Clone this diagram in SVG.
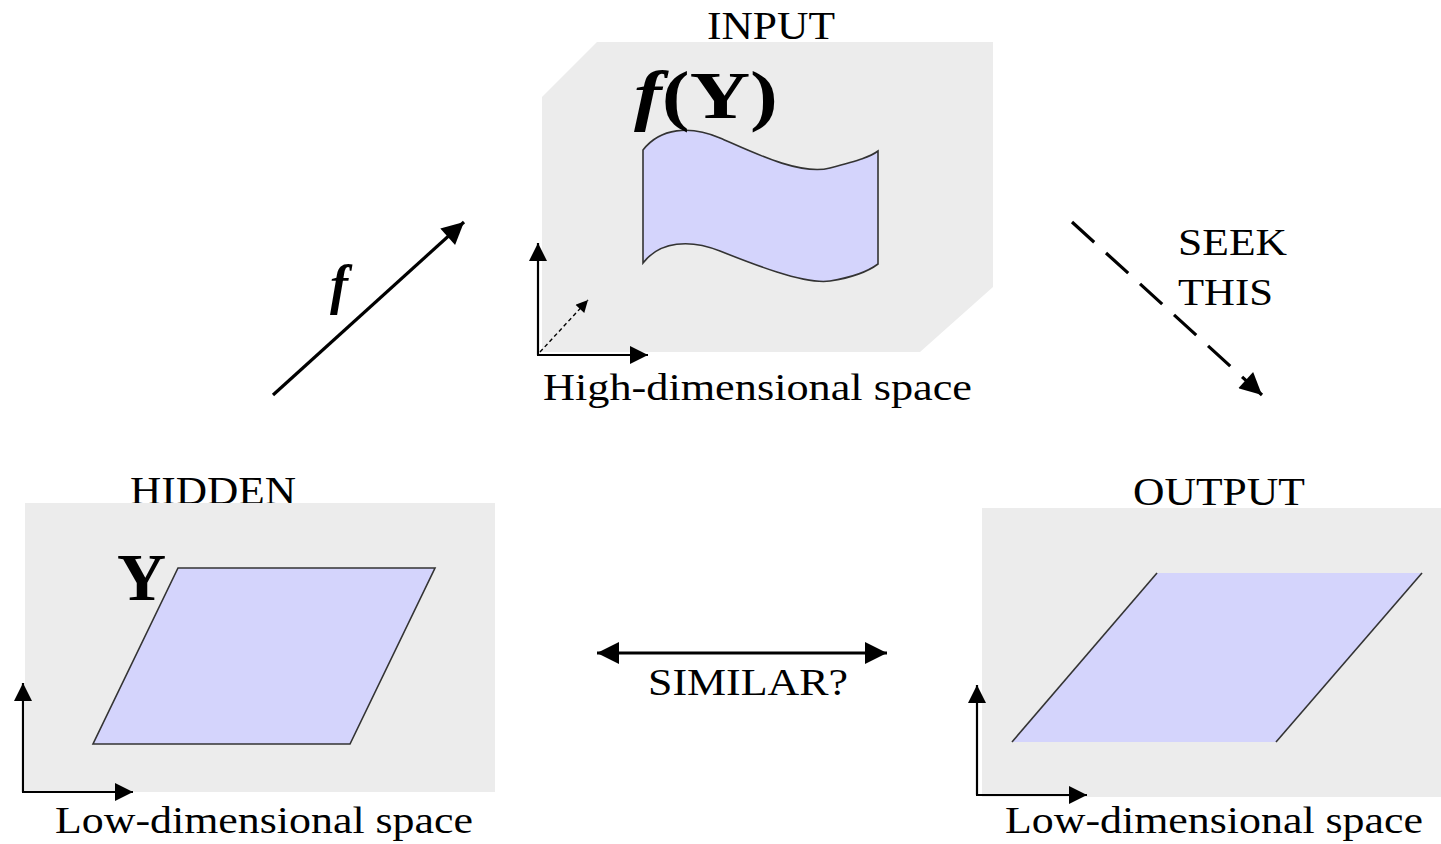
<svg xmlns="http://www.w3.org/2000/svg" width="1441" height="844" viewBox="0 0 1441 844">
<style>
.bg{fill:#ececec;stroke:none}
.sheet{fill:#d4d4fc;stroke:#333;stroke-width:1.6}
.t{font-family:"Liberation Serif","Times New Roman",serif;fill:#000}
.ax{stroke:#000;stroke-width:2.2;fill:none}
</style>
<defs>
<marker id="hd" viewBox="0 0 10 10" refX="10" refY="5" markerUnits="userSpaceOnUse" markerWidth="26" markerHeight="22" orient="auto-start-reverse">
<path d="M0,0 L10,5 L0,10 z" fill="#000"/>
</marker>
<marker id="hs" viewBox="0 0 10 10" refX="10" refY="5" markerUnits="userSpaceOnUse" markerWidth="22" markerHeight="18" orient="auto">
<path d="M0,0 L10,5 L0,10 z" fill="#000"/>
</marker>
<marker id="hx" viewBox="0 0 10 10" refX="10" refY="5" markerUnits="userSpaceOnUse" markerWidth="16" markerHeight="12" orient="auto">
<path d="M0,0 L10,5 L0,10 z" fill="#000"/>
</marker>
</defs>

<g id="input">
<text class="t" x="707" y="39" font-size="40" textLength="128" lengthAdjust="spacingAndGlyphs">INPUT</text>
<polygon class="bg" points="597,42 993,42 993,287 920,352 542,352 542,97"/>
<path class="sheet" d="M643,150 C660,128 690,125 720,138 S800,176 830,168 S870,157 878,151 L878,264 C870,270 855,277 830,281 S750,263 720,251 S660,241 643,263 Z"/>
<text class="t" x="634" y="118" font-size="68" font-weight="bold" textLength="144" lengthAdjust="spacingAndGlyphs"><tspan font-style="italic">f</tspan>(Y)</text>
<line class="ax" x1="538" y1="355" x2="538" y2="243" marker-end="url(#hs)"/>
<line class="ax" x1="537" y1="355" x2="648" y2="355" marker-end="url(#hs)"/>
<line x1="540" y1="352" x2="588" y2="300" stroke="#000" stroke-width="1.4" stroke-dasharray="4,3" marker-end="url(#hx)"/>
<text class="t" x="543" y="400" font-size="37" textLength="429" lengthAdjust="spacingAndGlyphs">High-dimensional space</text>
</g>

<g id="hidden">
<text class="t" x="130" y="504" font-size="40" textLength="166" lengthAdjust="spacingAndGlyphs">HIDDEN</text>
<rect class="bg" x="25" y="503" width="470" height="289"/>
<polygon class="sheet" points="178,568 435,568 350,744 93,744"/>
<text class="t" x="117" y="600" font-size="68" font-weight="bold">Y</text>
<line class="ax" x1="23" y1="792" x2="23" y2="683" marker-end="url(#hs)"/>
<line class="ax" x1="22" y1="792" x2="133" y2="792" marker-end="url(#hs)"/>
<text class="t" x="55" y="833" font-size="37" textLength="418" lengthAdjust="spacingAndGlyphs">Low-dimensional space</text>
</g>

<g id="output">
<text class="t" x="1133" y="505" font-size="40" textLength="172" lengthAdjust="spacingAndGlyphs">OUTPUT</text>
<rect class="bg" x="982" y="508" width="459" height="289"/>
<polygon points="1157,573 1422,573 1276,742 1012,742" fill="#d4d4fc" stroke="none"/>
<line x1="1012" y1="742" x2="1157" y2="573" stroke="#333" stroke-width="1.6"/>
<line x1="1276" y1="742" x2="1422" y2="573" stroke="#333" stroke-width="1.6"/>
<line class="ax" x1="977" y1="795" x2="977" y2="685" marker-end="url(#hs)"/>
<line class="ax" x1="976" y1="795" x2="1087" y2="795" marker-end="url(#hs)"/>
<text class="t" x="1005" y="833" font-size="37" textLength="418" lengthAdjust="spacingAndGlyphs">Low-dimensional space</text>
</g>

<g id="connectors">
<line x1="273" y1="395" x2="464" y2="222" stroke="#000" stroke-width="3.2" marker-end="url(#hd)"/>
<text class="t" x="330" y="303" font-size="54" font-weight="bold" font-style="italic">f</text>
<line x1="1072" y1="222" x2="1262" y2="395" stroke="#000" stroke-width="3.2" stroke-dasharray="30,16" marker-end="url(#hd)"/>
<text class="t" x="1178" y="255" font-size="37" textLength="109" lengthAdjust="spacingAndGlyphs">SEEK</text>
<text class="t" x="1178" y="305" font-size="37" textLength="95" lengthAdjust="spacingAndGlyphs">THIS</text>
<line x1="597" y1="653" x2="887" y2="653" stroke="#000" stroke-width="3" marker-start="url(#hd)" marker-end="url(#hd)"/>
<text class="t" x="648" y="695" font-size="37" textLength="200" lengthAdjust="spacingAndGlyphs">SIMILAR?</text>
</g>
</svg>
